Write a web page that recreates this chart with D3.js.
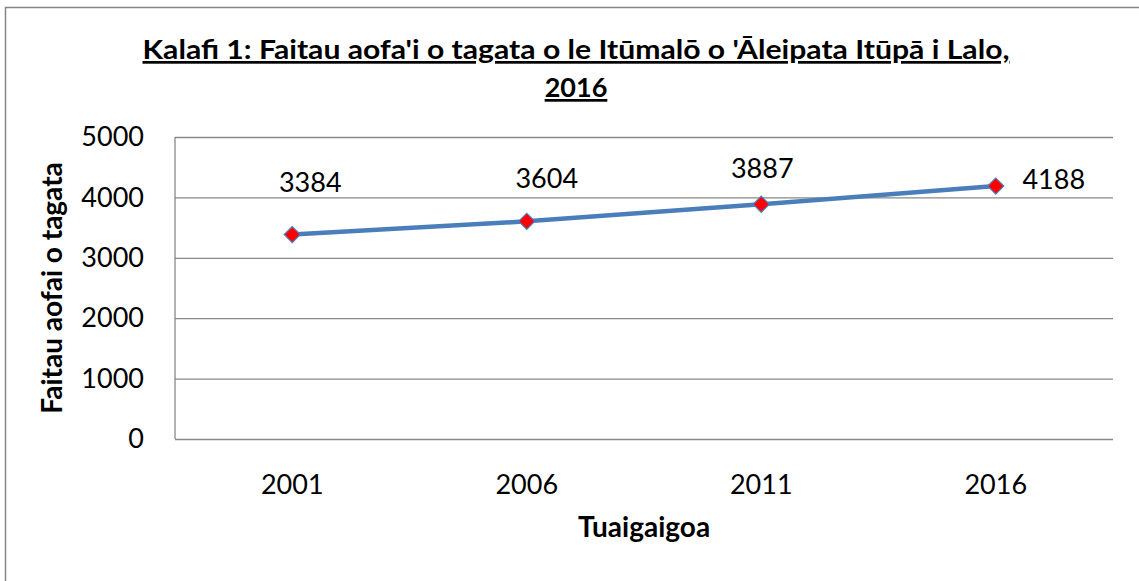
<!DOCTYPE html>
<html>
<head>
<meta charset="utf-8">
<script src="https://cdn.jsdelivr.net/npm/d3@7"></script>
<style>
    body { margin: 0; background: #fff; }
    svg { display: block; font-family: Lato, "Noto Sans", sans-serif; }
</style>
</head>
<body>
<script>
// data
const years = ['2001', '2006', '2011', '2016'];
const population = [3384, 3604, 3887, 4188];
const yTicks = [0, 1000, 2000, 3000, 4000, 5000];
const titleLines = ["Kalafi 1: Faitau aofa'i o tagata o le Itūmalō o 'Āleipata Itūpā i Lalo,", '2016'];
const xTitle = 'Tuaigaigoa';
const yTitle = 'Faitau aofai o tagata';

const svgWidth = 1139;
const svgHeight = 581;
const plot = {L: 175, R: 1113, T: 137, B: 439};

// label nudges (dx, dy) relative to the marker, like the hand-placed excel labels
const labelNudge = [[18, -53], [20, -44], [1, -37], [58, -8]];

const svg = d3.select('body').append('svg')
    .attr('width', svgWidth)
    .attr('height', svgHeight);

// outer frame (right / bottom edges fall outside the picture)
svg.append('rect')
    .attr('x', 5.5).attr('y', 7.5)
    .attr('width', svgWidth + 20).attr('height', svgHeight + 20)
    .attr('fill', 'none').attr('stroke', '#868686').attr('stroke-width', 1.5);

const scaleX = d3.scaleBand()
    .domain(years)
    .range([plot.L, plot.R]);

const scaleY = d3.scaleLinear()
    .domain([0, 5000])
    .range([plot.B, plot.T]);

// gridlines + y labels
const yAxis = svg.append('g')
    .attr('transform', `translate(${plot.L},0)`)
    .call(d3.axisLeft(scaleY)
        .tickValues(yTicks)
        .tickFormat(d3.format('d'))
        .tickSize(-(plot.R - plot.L))
        .tickPadding(31));
yAxis.select('.domain').remove();
yAxis.selectAll('.tick line').attr('stroke', '#888').attr('stroke-width', 1.3);
yAxis.selectAll('.tick text')
    .attr('font-size', 27).attr('fill', '#000')
    .attr('font-family', 'Lato, sans-serif');

// left axis line
svg.append('line')
    .attr('x1', plot.L).attr('x2', plot.L)
    .attr('y1', plot.T).attr('y2', plot.B)
    .attr('stroke', '#888').attr('stroke-width', 1.3);

// x labels
const xAxis = svg.append('g')
    .attr('transform', `translate(0,${plot.B})`)
    .call(d3.axisBottom(scaleX).tickSize(0));
xAxis.select('.domain').remove();
xAxis.selectAll('.tick text')
    .attr('y', 44).attr('dy', null)
    .attr('dominant-baseline', 'central')
    .attr('font-size', 27).attr('fill', '#000')
    .attr('font-family', 'Lato, sans-serif');

const cx = (d, i) => scaleX(years[i]) + scaleX.bandwidth() / 2;

// line
const line = d3.line()
    .x((d, i) => cx(d, i))
    .y(d => scaleY(d));
svg.append('path')
    .datum(population)
    .attr('d', line)
    .attr('fill', 'none')
    .attr('stroke', '#4a7ebb')
    .attr('stroke-width', 4.5);

// markers
svg.append('g').selectAll('path')
    .data(population)
    .join('path')
    .attr('transform', (d, i) => `translate(${cx(d, i)},${scaleY(d)}) rotate(45)`)
    .attr('d', 'M-5.7,-5.7H5.7V5.7H-5.7Z')
    .attr('fill', '#ff0000')
    .attr('stroke', '#4a7ebb')
    .attr('stroke-width', 1.2);

// data labels
svg.append('g').selectAll('text')
    .data(population)
    .join('text')
    .attr('x', (d, i) => cx(d, i) + labelNudge[i][0])
    .attr('y', (d, i) => scaleY(d) + labelNudge[i][1])
    .attr('text-anchor', 'middle')
    .attr('dominant-baseline', 'central')
    .attr('font-size', 27)
    .text(d => d);

// title
svg.append('g').selectAll('text')
    .data(titleLines)
    .join('text')
    .attr('x', 576)
    .attr('y', (d, i) => 59 + i * 38)
    .attr('text-anchor', 'middle')
    .attr('font-size', 27)
    .attr('font-weight', 'bold')
    .attr('text-decoration', 'underline')
    .attr('textLength', (d, i) => i === 0 ? 867 : null)
    .attr('lengthAdjust', 'spacingAndGlyphs')
    .text(d => d);

// axis titles
svg.append('text')
    .attr('x', 644).attr('y', 537)
    .attr('text-anchor', 'middle')
    .attr('font-size', 28).attr('font-weight', 'bold')
    .text(xTitle);

svg.append('text')
    .attr('transform', 'translate(62,288) rotate(-90)')
    .attr('text-anchor', 'middle')
    .attr('font-size', 28).attr('font-weight', 'bold')
    .text(yTitle);
</script>
</body>
</html>
